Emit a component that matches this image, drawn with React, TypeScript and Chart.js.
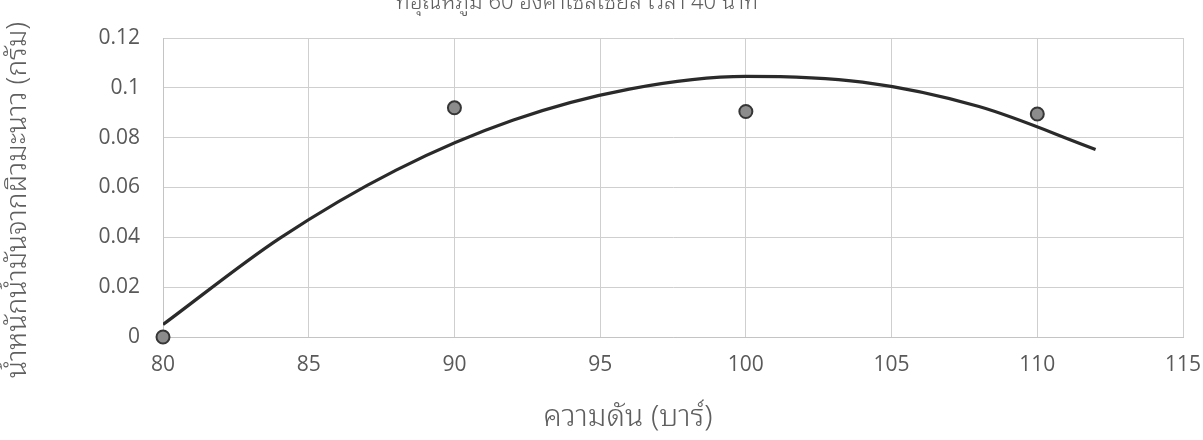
import React, { useEffect, useRef } from "react";
import { Chart, registerables } from "chart.js";

Chart.register(...registerables);

const chartTitle = "ที่อุณหภูมิ 60 องศาเซลเซียส เวลา 40 นาที";
const xAxisTitle = "ความดัน (บาร์)";
const yAxisTitle = "น้ำหนักน้ำมันจากผิวมะนาว (กรัม)";

const pressureBar = [80, 90, 100, 110];
const oilWeightG = [0, 0.092, 0.0905, 0.0895];

// trendline
const trendX = [80, 84, 88, 92, 96, 100, 104, 108, 112];
const trendY = [0.005, 0.0396, 0.067, 0.087, 0.0995, 0.1046, 0.1023, 0.0925, 0.0753];

const xTickLabels = ["80", "85", "90", "95", "100", "105", "110", "115"];
const yTickLabels = ["0", "0.02", "0.04", "0.06", "0.08", "0.1", "0.12"];

const THAI_FONT = "'Noto Sans Thai Looped', Loma, Garuda, Tahoma, 'Noto Sans Thai', 'Noto Sans', sans-serif";
const TICK_FONT = "'Open Sans', 'Noto Sans', sans-serif";

const titlesPlugin = {
  id: "customTitles",
  afterDraw(chart: any) {
    const ctx = chart.ctx;
    ctx.save();
    ctx.fillStyle = "#5f5f5f";
    ctx.textAlign = "center";
    ctx.textBaseline = "alphabetic";
    ctx.font = `300 22px ${THAI_FONT}`;
    ctx.fillText(chartTitle, 577, 9);
    ctx.font = `300 30px ${THAI_FONT}`;
    ctx.textBaseline = "middle";
    ctx.fillText(xAxisTitle, 628, 418);
    ctx.font = `300 28px ${THAI_FONT}`;
    ctx.translate(18, 200);
    ctx.rotate(-Math.PI / 2);
    ctx.fillText(yAxisTitle, 0, 0);
    ctx.restore();
  },
};

export default function App() {
  const canvasRef = useRef<HTMLCanvasElement | null>(null);

  useEffect(() => {
    if (!canvasRef.current) return;
    const chart = new Chart(canvasRef.current, {
      type: "scatter",
      data: {
        datasets: [
          {
            label: "ผลการทดลอง",
            data: pressureBar.map((x, i) => ({ x, y: oilWeightG[i] })),
            backgroundColor: "#8c8c8c",
            borderColor: "#363636",
            borderWidth: 2,
            pointRadius: 6.5,
            clip: false as any,
            order: 1,
          },
          {
            label: "เส้นแนวโน้ม",
            data: trendX.map((x, i) => ({ x, y: trendY[i] })),
            showLine: true,
            borderColor: "#2a2a2a",
            borderWidth: 3.2,
            pointRadius: 0,
            cubicInterpolationMode: "monotone",
            order: 2,
          } as any,
        ],
      },
      options: {
        responsive: false,
        animation: false,
        layout: { padding: { left: 0, top: 38, right: 20, bottom: 0 } },
        plugins: {
          legend: { display: false },
          tooltip: { enabled: false },
          title: { display: false },
        },
        scales: {
          x: {
            type: "linear",
            min: 80,
            max: 115,
            afterFit: (s: any) => {
              s.height = 103;
              s.paddingRight = 0;
              s.paddingLeft = 0;
            },
            afterBuildTicks: (s: any) => {
              s.ticks = xTickLabels.map((t) => ({ value: Number(t) }));
            },
            ticks: {
              stepSize: 5,
              padding: 15,
              color: "#595959",
              font: { size: 21, family: TICK_FONT },
              callback: (v: any) => xTickLabels.find((t) => Number(t) === Number(v)) ?? "",
            },
            grid: { color: "#cfcfcf", lineWidth: 1, drawTicks: false },
            border: { color: "#c4c4c4", width: 1 },
          },
          y: {
            type: "linear",
            min: 0,
            max: 0.12,
            afterFit: (s: any) => {
              s.width = 163;
              s.paddingTop = 0;
              s.paddingBottom = 0;
            },
            afterBuildTicks: (s: any) => {
              s.ticks = yTickLabels.map((t) => ({ value: Number(t) }));
            },
            ticks: {
              padding: 23,
              color: "#595959",
              font: { size: 21, family: TICK_FONT },
              callback: (v: any) =>
                yTickLabels.find((t) => Math.abs(Number(t) - Number(v)) < 1e-9) ?? "",
            },
            grid: { color: "#cfcfcf", lineWidth: 1, drawTicks: false },
            border: { color: "#c4c4c4", width: 1 },
          },
        },
      },
      plugins: [titlesPlugin],
    });
    return () => chart.destroy();
  }, []);

  return (
    <div style={{ position: "fixed", left: 0, top: 0, width: 1203, height: 440, background: "#ffffff" }}>
      <canvas ref={canvasRef} width={1203} height={440} style={{ display: "block" }} />
    </div>
  );
}
